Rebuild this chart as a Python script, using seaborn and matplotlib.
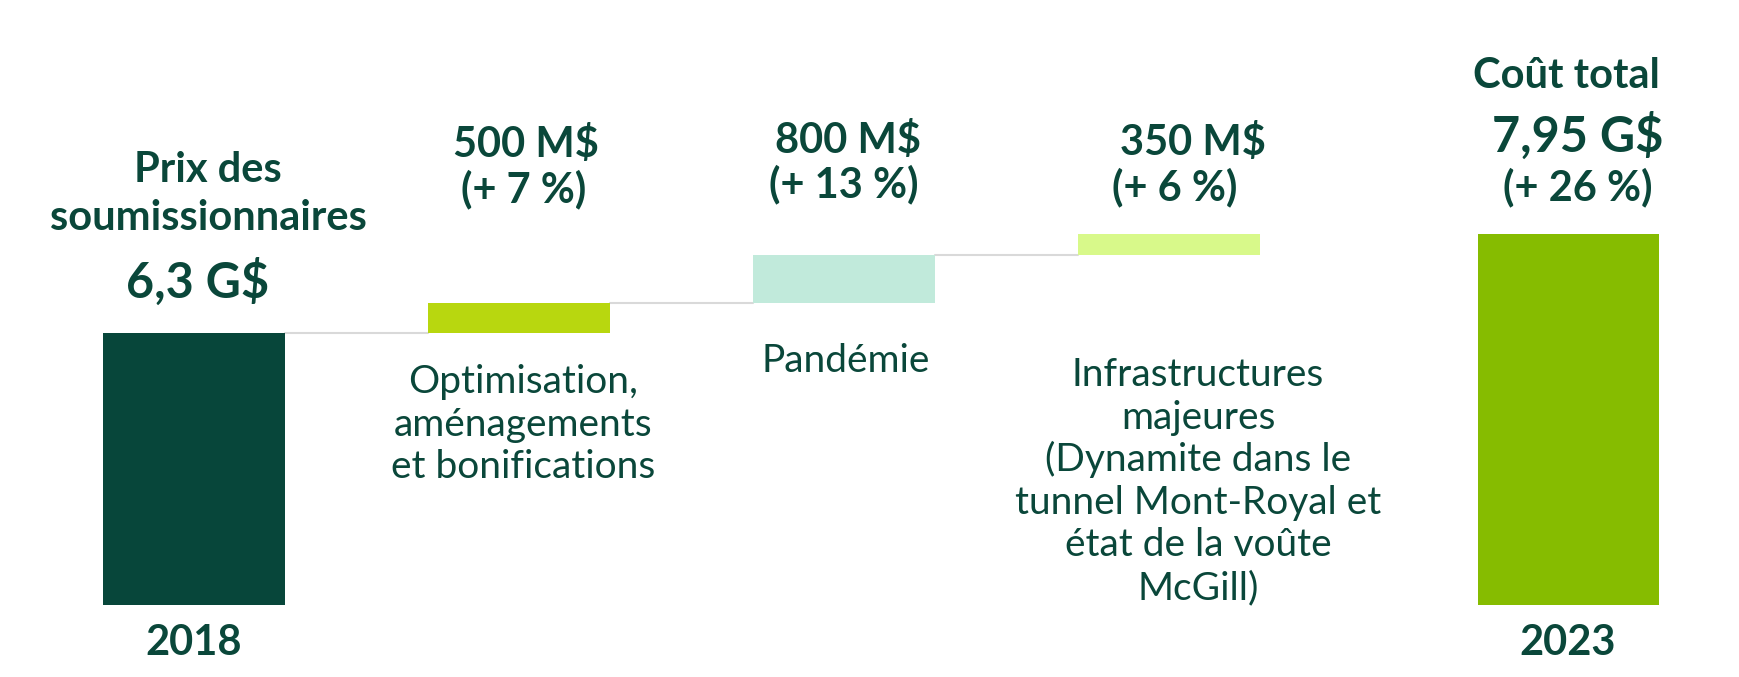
import matplotlib.pyplot as plt
import numpy as np
import pandas as pd
import seaborn as sns

# Données (en G$)
etapes = ["2018", "Optimisation", "Pandémie", "Infrastructures", "2023"]
montants = [6.3, 0.5, 0.8, 0.35, 7.95]
est_total = [True, False, False, False, True]
annees = ["2018", "", "", "", "2023"]

etiquettes_haut = [
    ["Prix des", "soumissionnaires", "6,3 G$"],
    ["500 M$", "(+ 7 %)"],
    ["800 M$", "(+ 13 %)"],
    ["350 M$", "(+ 6 %)"],
    ["Coût total", "7,95 G$", "(+ 26 %)"],
]
descriptions = [
    [],
    ["Optimisation,", "aménagements", "et bonifications"],
    ["Pandémie"],
    ["Infrastructures", "majeures", "(Dynamite dans le", "tunnel Mont-Royal et", "état de la voûte", "McGill)"],
    [],
]

# Mise en page
W, H = 1739, 677
slots = [0, 1, 2, 3, 4.228]
bar_width = 0.557
couleurs = ["#07463a", "#b8d70f", "#c1eadb", "#d8f98a", "#86bc00"]
texte = "#0a473a"

# baseline (px depuis le haut), décalage x (px), taille (pt)
pos_haut = [
    [(182, 14, 30), (230, 14, 30), (298, 4, 35)],
    [(157, 7, 30), (202, 5, 30)],
    [(153, 4, 30), (197, 0, 30)],
    [(155, 24, 30), (200, 6, 30)],
    [(88, -2, 30), (152, 10, 35), (200, 10, 30)],
]
pos_desc = [None, (393, 4), (372, 2), (386, 29), None]
interligne = 42.6

running = 0.0
bases = []
for valeur, total in zip(montants, est_total):
    if total:
        bases.append(0.0)
        running = valeur
    else:
        bases.append(running)
        running += valeur
bases = np.array(bases)
tops = bases + np.array(montants)

df = pd.DataFrame({"etape": etapes, "montant": montants, "slot": slots})

sns.set_theme(style="white")
plt.rcParams["font.family"] = ["Lato", "DejaVu Sans"]

fig = plt.figure(figsize=(W / 100, H / 100), dpi=100)
ax = fig.add_axes([0, 1 - 605 / H, 1, 605 / H])

sns.barplot(data=df, x="slot", y="montant", native_scale=True, orient="x",
            width=bar_width, bottom=bases, errorbar=None, ax=ax, color=couleurs[0])
for patch, c in zip(ax.patches, couleurs):
    patch.set_facecolor(c)
    patch.set_edgecolor("none")

# lignes de liaison
for i in range(3):
    ax.plot([slots[i] + bar_width / 2, slots[i + 1] - bar_width / 2], [tops[i], tops[i]],
            color="#d9d9d9", lw=1.5, zorder=0)

ax.set_xlim(-194 / 325, (W - 194) / 325)
ax.set_ylim(1.767, 1.767 + 605 / 60)
ax.set_xticks([slots[0], slots[-1]])
ax.set_xticklabels([annees[0], annees[-1]], fontsize=30, fontweight="bold", color=texte)
ax.tick_params(axis="x", length=0, pad=14)
ax.set_yticks([])
ax.set_xlabel("")
ax.set_ylabel("")
sns.despine(ax=ax, left=True, bottom=True)


def poser(slot, y_px, dx, s, size, weight):
    ax.annotate(s, xy=(slot, 1 - y_px / H), xycoords=("data", "figure fraction"),
                xytext=(dx, 0), textcoords="offset pixels", ha="center", va="baseline",
                fontsize=size, fontweight=weight, color=texte)


for slot, lignes, positions in zip(slots, etiquettes_haut, pos_haut):
    for s, (y_px, dx, size) in zip(lignes, positions):
        poser(slot, y_px, dx, s, size, "bold")

for slot, lignes, pos in zip(slots, descriptions, pos_desc):
    if pos is None:
        continue
    y0, dx = pos
    for k, s in enumerate(lignes):
        poser(slot, y0 + k * interligne, dx, s, 28, "normal")

fig.savefig("out.png", dpi=100)
